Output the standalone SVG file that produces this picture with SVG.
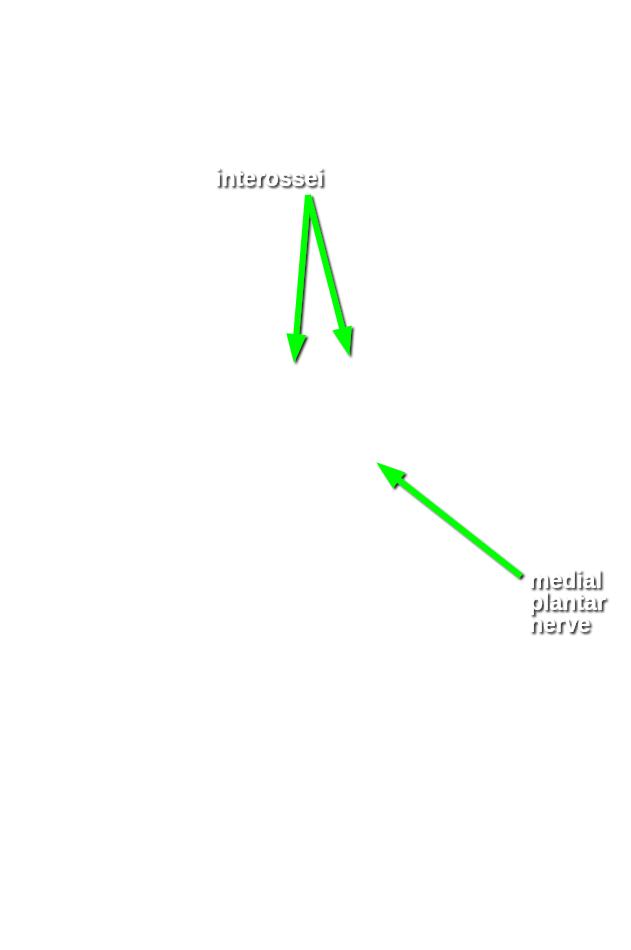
<svg xmlns="http://www.w3.org/2000/svg" width="631" height="950" viewBox="0 0 631 950">
<style>
.lbl{font-family:"Liberation Sans",Arial,sans-serif;font-weight:bold;font-size:23px;fill:#fff;letter-spacing:0px}
.arr{stroke:#00ff00;stroke-width:6;fill:none}
</style>
<defs>
<filter id="sh" x="-20%" y="-20%" width="140%" height="140%">
<feDropShadow dx="2" dy="2" stdDeviation="1.3" flood-color="#000" flood-opacity="0.85"/>
</filter>
<marker id="ah" markerUnits="userSpaceOnUse" markerWidth="40" markerHeight="30" refX="0" refY="10" orient="auto" overflow="visible">
<path d="M-3,0 L26,10 L-3,20 z" fill="#00ff00"/>
</marker>
</defs>
<rect width="631" height="950" fill="#fff"/>
<g id="connectors" filter="url(#sh)">
<line class="arr" x1="308" y1="195" x2="296.1" y2="337.1" marker-end="url(#ah)"/>
<line class="arr" x1="308" y1="195" x2="342.8" y2="330.8" marker-end="url(#ah)"/>
<line class="arr" x1="521" y1="576" x2="396.7" y2="478.4" marker-end="url(#ah)"/>
</g>
<g id="interossei" filter="url(#sh)">
<text class="lbl" x="215" y="186">interossei</text>
</g>
<g id="medial-plantar-nerve" filter="url(#sh)">
<text class="lbl" x="529" y="588">medial</text>
<text class="lbl" x="529" y="610">plantar</text>
<text class="lbl" x="529" y="632">nerve</text>
</g>
</svg>
